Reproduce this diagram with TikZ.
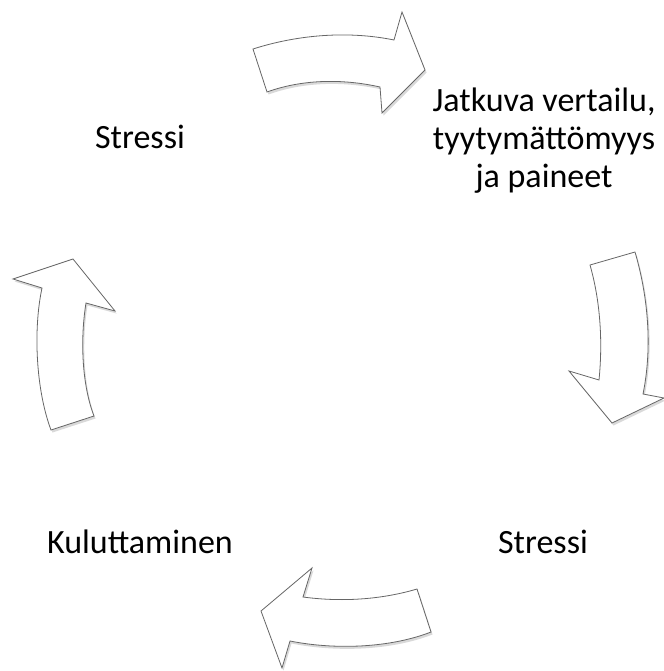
\documentclass[tikz,border=0pt]{standalone}
\usepackage{fontspec}
\setmainfont{Carlito}
\usetikzlibrary{shadows}

\begin{document}
\begin{tikzpicture}[
  x=1pt, y=-1pt,
  phase/.style={anchor=base, align=center, font=\fontsize{34}{37.5}\selectfont},
  cyclearrow/.style={draw=black!60, line width=0.8pt, fill=white, line join=miter,
    drop shadow={shadow xshift=1.5pt, shadow yshift=-2.5pt, opacity=0.25, fill=black!60}}
]
\useasboundingbox (0,0) rectangle (663,671);

% Texts of the cycle
\node[phase] (StressTop) at (140,149) {Stressi};
\node[phase] (Comparison) at (544,187) {Jatkuva vertailu,\\tyytymättömyys\\ja paineet};
\node[phase] (StressBottom) at (543,553) {Stressi};
\node[phase] (Consumption) at (140,553) {Kuluttaminen};

% Top arrow - to the right
\draw[cyclearrow] (253,49) .. controls (300,34) and (350,31) .. (394,40) -- (402,12) -- (425,70)
  -- (382,113) -- (380,87) .. controls (340,78) and (300,80) .. (267,92) -- cycle;

% Right arrow - down
\draw[cyclearrow] (590,265) -- (635,252) .. controls (649,300) and (652,350) .. (643,394) -- (664,398)
  -- (612,423) -- (569,371) -- (599,380) .. controls (603,340) and (600,300) .. (590,265) -- cycle;

% Bottom arrow - to the left
\draw[cyclearrow] (417,589) .. controls (380,600) and (340,602) .. (303,597) -- (312,568) -- (261,611)
  -- (282,668) -- (290,641) .. controls (335,650) and (390,648) .. (431,632) -- cycle;

% Left arrow - up
\draw[cyclearrow] (51,430) -- (94,416) .. controls (82,385) and (80,340) .. (86,303) -- (115,311)
  -- (73,259) -- (13,279) -- (42,288) .. controls (33,330) and (36,390) .. (51,430) -- cycle;

\end{tikzpicture}
\end{document}
